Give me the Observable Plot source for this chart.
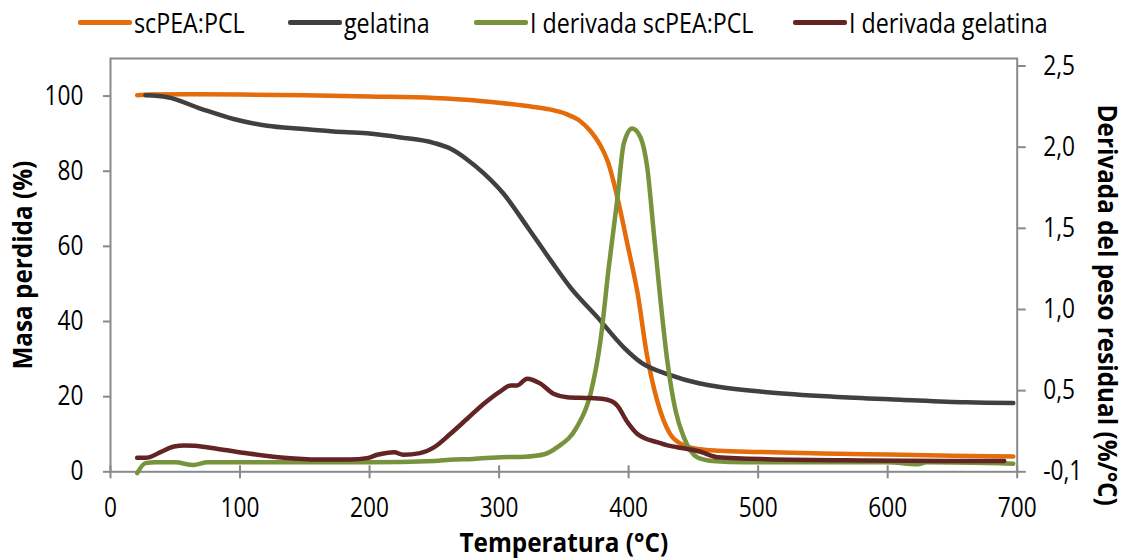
<!DOCTYPE html>
<html>
<head>
<meta charset="utf-8">
<script src="https://cdn.jsdelivr.net/npm/d3@7"></script>
<script src="https://cdn.jsdelivr.net/npm/@observablehq/plot@0.6"></script>
<style>
  html, body { margin: 0; padding: 0; background: #fff; }
  #wrap { position: relative; width: 1129px; height: 560px; font-family: "Open Sans", sans-serif; }
  #legend { position: absolute; left: 0; top: 0; width: 1129px; height: 46px; }
  .sw { position: absolute; top: 20px; width: 54px; height: 5px; border-radius: 2px; }
  .lab { position: absolute; top: 3px; font-size: 28px; line-height: 38px; color: #000; white-space: nowrap; transform: scaleX(0.83); transform-origin: left center; }
  #chart { position: absolute; left: 0; top: 0; }
</style>
</head>
<body>
<div id="wrap">
  <div id="chart"></div>
  <div id="legend"></div>
</div>
<script>
// Thermogravimetric curves: residual mass (%) vs temperature (°C)
const tempPEA = [20.6, 30, 60, 100, 150, 200, 250, 280, 300, 320, 340, 352, 362, 371, 378, 384, 391, 399, 407, 414, 422, 432, 443, 455, 470, 500, 550, 600, 650, 697];
const masaPEA = [100.2, 100.4, 100.5, 100.4, 100.2, 99.9, 99.5, 98.9, 98.2, 97.4, 96.4, 95.2, 93.5, 90.5, 87.0, 82.5, 73.5, 60.7, 47.4, 31.4, 19.0, 10.1, 7.0, 6.0, 5.6, 5.3, 4.9, 4.6, 4.3, 4.1];

const tempGel = [27, 44, 70, 95, 121, 147, 172, 198, 224, 250, 263, 275, 288, 303, 322, 340, 355, 376, 396, 410, 430, 455, 468, 507, 558, 610, 661, 697];
const masaGel = [100.2, 99.7, 96.6, 93.9, 92.1, 91.3, 90.6, 90.1, 89.0, 87.5, 85.9, 83.2, 79.5, 74.2, 65.1, 56.2, 49.1, 41.1, 33.2, 29.0, 26.0, 23.5, 22.7, 21.2, 20.0, 19.2, 18.5, 18.3];

// First derivative curves (%/°C)
const tempDerivPEA = [20.6, 27, 35, 50, 64, 75, 100, 150, 185, 200, 250, 262, 280, 301, 320, 335, 345, 360, 370.6, 378.3, 384.7, 391.2, 396.3, 402.8, 409.2, 414.3, 419.5, 424.6, 429.8, 436.2, 442.6, 452.9, 465, 490, 550, 600, 623, 630, 697];
const derivPEA = [-0.11, -0.036, -0.03, -0.03, -0.05, -0.03, -0.03, -0.03, -0.029, -0.03, -0.02, -0.011, -0.005, 0.008, 0.012, 0.03, 0.082, 0.23, 0.477, 0.81, 1.262, 1.673, 2.023, 2.115, 2.06, 1.879, 1.468, 1.057, 0.687, 0.354, 0.156, 0.008, -0.02, -0.03, -0.03, -0.03, -0.045, -0.03, -0.04];

const tempDerivGel = [20.6, 28, 38.6, 49, 57, 65, 82, 108, 134, 160, 185, 198, 206, 219, 226, 239, 250, 262.5, 275.4, 288.2, 301, 309, 314, 321.6, 332, 342, 352.5, 370.6, 383.5, 391.2, 398.9, 406.6, 412, 422, 430, 437.5, 455.5, 468.4, 507, 584, 661, 690];
const derivGel = [0.003, 0.004, 0.045, 0.087, 0.095, 0.092, 0.07, 0.033, 0.004, -0.009, -0.009, 0.001, 0.026, 0.045, 0.026, 0.038, 0.082, 0.181, 0.292, 0.403, 0.495, 0.532, 0.532, 0.574, 0.543, 0.477, 0.452, 0.445, 0.433, 0.391, 0.27, 0.181, 0.15, 0.119, 0.095, 0.082, 0.048, 0.008, -0.007, -0.016, -0.02, -0.02];

// Axis ticks
const xTicks = [0, 100, 200, 300, 400, 500, 600, 700];
const masaTicks = [0, 20, 40, 60, 80, 100];
const derivTicks = [-0.1, 0.5, 1.0, 1.5, 2.0, 2.5];
const derivTickLabels = ["-0,1", "0,5", "1,0", "1,5", "2,0", "2,5"];

// Series names and colours
const seriesNames = ["scPEA:PCL", "gelatina", "I derivada scPEA:PCL", "I derivada gelatina"];
const seriesColors = ["#E46C0A", "#404040", "#77933C", "#632523"];

// The secondary axis has evenly spaced ticks: map derivative values onto the
// primary (mass) scale piecewise so they line up with its labels.
const derivStep = 21.6;
const derivToMasa = d3.scaleLinear()
  .domain(derivTicks)
  .range(derivTicks.map((_, i) => i * derivStep));

const zip = (xs, ys) => xs.map((x, i) => ({x, y: ys[i]}));
const pea = zip(tempPEA, masaPEA);
const gel = zip(tempGel, masaGel);
const dPea = zip(tempDerivPEA, derivPEA).map(d => ({x: d.x, y: derivToMasa(d.y)}));
const dGel = zip(tempDerivGel, derivGel).map(d => ({x: d.x, y: derivToMasa(d.y)}));

const derivPos = derivTicks.map(d => derivToMasa(d));
const derivLabelAt = new Map(derivPos.map((p, i) => [p, derivTickLabels[i]]));

const axisGrey = "#898989";
const font = "Open Sans, sans-serif";
const narrowTick = 0.84;  // horizontal condensing of tick labels
const narrowTitle = 0.9;  // horizontal condensing of bold axis titles
const lineOpts = {x: "x", y: "y", strokeWidth: 4.5, curve: "monotone-x", strokeLinecap: "round", strokeLinejoin: "round"};
const titleOpts = {text: d => d, textAnchor: "middle", lineAnchor: "middle", fontWeight: "bold", fontSize: 27, fill: "#000"};

const chart = Plot.plot({
  width: 1129,
  height: 560,
  marginTop: 58,
  marginBottom: 88.7,
  marginLeft: 110,
  marginRight: 112.3,
  style: {fontFamily: font, fontSize: "27px", color: "#000", background: "#fff"},
  x: {domain: [0, 700]},
  y: {domain: [0, 110]},
  marks: [
    Plot.frame({stroke: axisGrey, strokeWidth: 2}),
    Plot.axisX(xTicks, {anchor: "bottom", tickSize: 13, dy: -6, tickPadding: 19, stroke: axisGrey, strokeWidth: 2, fill: "#000", fontSize: 27, label: null}),
    Plot.axisY(masaTicks, {anchor: "left", tickSize: 7, tickPadding: 20, stroke: axisGrey, strokeWidth: 2, fill: "#000", fontSize: 27, label: null}),
    Plot.axisY(derivPos, {anchor: "right", tickSize: 8, tickPadding: 18, stroke: axisGrey, strokeWidth: 2, fill: "#000", fontSize: 27, tickFormat: p => derivLabelAt.get(p), label: null}),
    Plot.line(pea, {...lineOpts, stroke: seriesColors[0]}),
    Plot.line(gel, {...lineOpts, stroke: seriesColors[1]}),
    Plot.line(dPea, {...lineOpts, stroke: seriesColors[2]}),
    Plot.line(dGel, {...lineOpts, stroke: seriesColors[3]}),
    Plot.text(["Masa perdida (%)"], {...titleOpts, frameAnchor: "left", rotate: -90, dx: -87}),
    Plot.text(["Temperatura (°C)"], {...titleOpts, frameAnchor: "bottom", dy: 72}),
    Plot.text(["Derivada del peso residual (%/°C)"], {...titleOpts, frameAnchor: "right", rotate: 90, dx: 89, dy: 40})
  ]
});
document.getElementById("chart").appendChild(chart);

// Condense every label horizontally (glyphs squeezed to a shorter run)
d3.select(chart).selectAll("text").each(function() {
  const len = this.getComputedTextLength();
  if (len > 0) {
    const bold = +getComputedStyle(this).fontWeight >= 600;
    this.setAttribute("textLength", (len * (bold ? narrowTitle : narrowTick)).toFixed(2));
    this.setAttribute("lengthAdjust", "spacingAndGlyphs");
  }
});

// Legend above the plot area
const legendLeft = [78, 288, 474, 793];
const legend = document.getElementById("legend");
seriesNames.forEach((name, i) => {
  const sw = document.createElement("div");
  sw.className = "sw";
  sw.style.left = legendLeft[i] + "px";
  sw.style.background = seriesColors[i];
  const label = document.createElement("div");
  label.className = "lab";
  label.style.left = (legendLeft[i] + 56) + "px";
  label.textContent = name;
  legend.appendChild(sw);
  legend.appendChild(label);
});
</script>
</body>
</html>
